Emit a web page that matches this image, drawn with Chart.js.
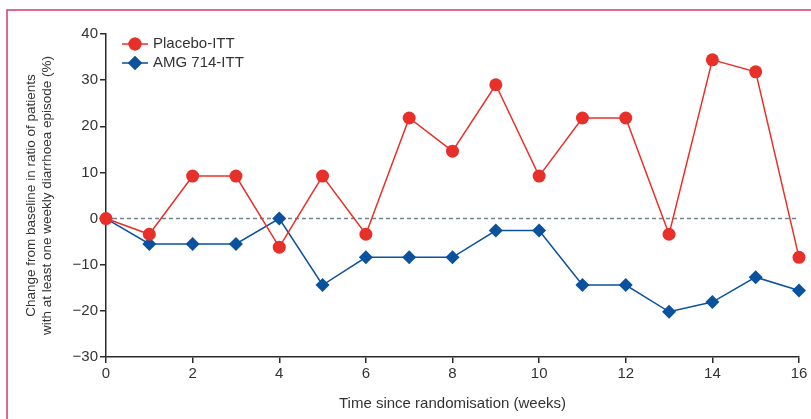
<!DOCTYPE html>
<html>
<head>
<meta charset="utf-8">
<script src="https://cdn.jsdelivr.net/npm/chart.js@4"></script>
<style>
  html, body { margin: 0; padding: 0; background: #fff; }
  #wrap { position: relative; width: 811px; height: 419px; }
</style>
</head>
<body>
<div id="wrap"><canvas id="chart" width="811" height="419"></canvas></div>
<script>
// weeks since randomisation
const WEEKS = [0, 1, 2, 3, 4, 5, 6, 7, 8, 9, 10, 11, 12, 13, 14, 15, 16];
const PLACEBO = [0, -3.4, 9.2, 9.2, -6.2, 9.2, -3.4, 21.8, 14.6, 29.0, 9.2, 21.8, 21.8, -3.4, 34.4, 31.8, -8.4];
const AMG = [0, -5.5, -5.5, -5.5, 0, -14.4, -8.4, -8.4, -8.4, -2.6, -2.6, -14.4, -14.4, -20.2, -18.1, -12.7, -15.6];
const Y_TICKS = [-30, -20, -10, 0, 10, 20, 30, 40];
const X_TICKS = [0, 2, 4, 6, 8, 10, 12, 14, 16];

const RED = '#e8302a';
const BLUE = '#0a519e';
const AXIS = '#2a2a2a';
const FONT = "'Liberation Sans', Arial, sans-serif";

function toPoints(ys) {
    return WEEKS.map((w, i) => ({ x: w, y: ys[i] }));
}

// pink frame + dashed zero line + legend with line through marker
const extras = {
    id: 'extras',
    beforeDraw(chart) {
        const ctx = chart.ctx;
        ctx.save();
        ctx.strokeStyle = '#d6386e';
        ctx.lineWidth = 1.5;
        ctx.beginPath();
        ctx.moveTo(7, 419);
        ctx.lineTo(7, 10);
        ctx.lineTo(811, 10);
        ctx.stroke();
        ctx.restore();
    },
    beforeDatasetsDraw(chart) {
        const { ctx, chartArea, scales } = chart;
        const y0 = scales.y.getPixelForValue(0);
        ctx.save();
        ctx.strokeStyle = '#6e8491';
        ctx.lineWidth = 1.5;
        ctx.setLineDash([4, 3]);
        ctx.beginPath();
        ctx.moveTo(chartArea.left, y0);
        ctx.lineTo(chartArea.right, y0);
        ctx.stroke();
        ctx.restore();
    },
    afterDraw(chart) {
        const ctx = chart.ctx;
        const items = [
            { label: 'Placebo-ITT', color: RED, style: 'circle', y: 44 },
            { label: 'AMG 714-ITT', color: BLUE, style: 'rectRot', y: 63 }
        ];
        ctx.save();
        items.forEach(it => {
            ctx.strokeStyle = it.color;
            ctx.lineWidth = 1.5;
            ctx.beginPath();
            ctx.moveTo(122, it.y);
            ctx.lineTo(148, it.y);
            ctx.stroke();
            Chart.helpers.drawPoint(ctx, {
                pointStyle: it.style, radius: it.style === 'circle' ? 6.5 : 7, rotation: 0, borderWidth: 0
            }, 135, it.y);
            ctx.fillStyle = it.color;
            ctx.fill();
            ctx.fillStyle = '#333';
            ctx.font = '15px ' + FONT;
            ctx.textBaseline = 'middle';
            ctx.fillText(it.label, 153, it.y);
        });
        ctx.restore();
    }
};

new Chart(document.getElementById('chart'), {
    type: 'line',
    data: {
        datasets: [
            {
                label: 'Placebo-ITT',
                data: toPoints(PLACEBO),
                borderColor: RED,
                backgroundColor: RED,
                borderWidth: 1.5,
                pointStyle: 'circle',
                pointRadius: 6.5,
                pointBorderWidth: 0,
                tension: 0,
                clip: false
            },
            {
                label: 'AMG 714-ITT',
                data: toPoints(AMG),
                borderColor: BLUE,
                backgroundColor: BLUE,
                borderWidth: 1.5,
                pointStyle: 'rectRot',
                pointRadius: 7,
                pointBorderWidth: 0,
                tension: 0,
                clip: false
            }
        ]
    },
    options: {
        responsive: false,
        animation: false,
        layout: { padding: { top: 34, right: 12, left: 0, bottom: 0 } },
        plugins: {
            legend: { display: false },
            tooltip: { enabled: false }
        },
        scales: {
            x: {
                type: 'linear',
                min: 0,
                max: 16,
                afterBuildTicks: axis => { axis.ticks = X_TICKS.map(v => ({ value: v })); },
                afterFit: axis => { axis.height = 62; },
                border: { color: AXIS, width: 1.5 },
                grid: { drawOnChartArea: false, color: AXIS, lineWidth: 1.5, tickLength: 6 },
                ticks: { color: '#333', font: { family: FONT, size: 15 }, padding: 2, maxRotation: 0 },
                title: {
                    display: true,
                    text: 'Time since randomisation (weeks)',
                    color: '#333',
                    font: { family: FONT, size: 15, lineHeight: 1.1 },
                    padding: { top: 0, bottom: 7 }
                }
            },
            y: {
                min: -30,
                max: 40,
                afterBuildTicks: axis => { axis.ticks = Y_TICKS.map(v => ({ value: v })); },
                afterFit: axis => { axis.width = 106; },
                border: { color: AXIS, width: 1.5 },
                grid: { drawOnChartArea: false, color: AXIS, lineWidth: 1.5, tickLength: 6 },
                ticks: {
                    color: '#333',
                    font: { family: FONT, size: 15 },
                    padding: 2,
                    callback: v => (v < 0 ? '\u2212' + Math.abs(v) : String(v))
                },
                title: {
                    display: true,
                    text: ['Change from baseline in ratio of patients', 'with at least one weekly diarrhoea episode (%)'],
                    color: '#333',
                    font: { family: FONT, size: 13.5, lineHeight: 1.18 },
                    padding: { top: 23, bottom: 0 }
                }
            }
        }
    },
    plugins: [extras]
});
</script>
</body>
</html>
